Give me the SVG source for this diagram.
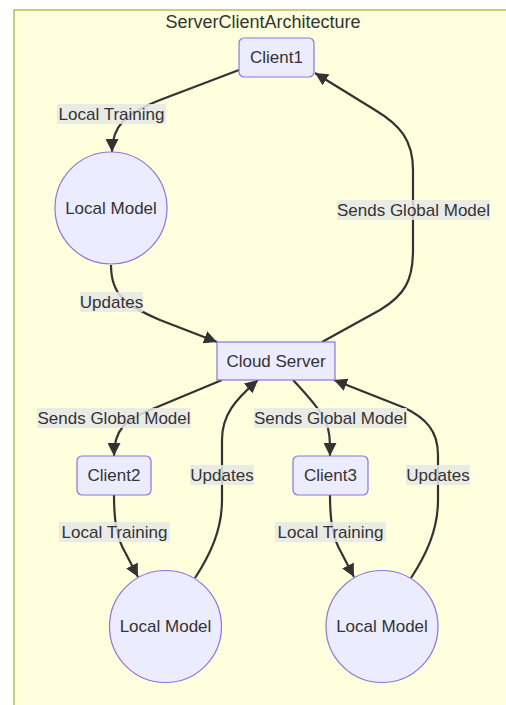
<svg xmlns="http://www.w3.org/2000/svg" width="506" height="705" viewBox="0 0 506 705">
  <style>
    text { font-family: "Liberation Sans", Arial, sans-serif; fill: #333; text-anchor: middle; dominant-baseline: central; }
    .title { font-size: 18px; }
    .node rect, .node circle { fill: #ECECFF; stroke: #9370DB; stroke-width: 1.2; }
    .node text { font-size: 17px; }
    .edge { fill: none; stroke: #333; stroke-width: 2.2; }
    .lbl rect { fill: #e8e8e8; opacity: 0.85; }
    .lbl text { font-size: 17px; }
  </style>
  <defs>
    <marker id="arrow" viewBox="0 0 10 10" refX="10" refY="5" markerWidth="13" markerHeight="13" markerUnits="userSpaceOnUse" orient="auto">
      <path d="M0,0 L10,5 L0,10 z" fill="#333"/>
    </marker>
  </defs>

  <!-- page + cluster background -->
  <rect x="0" y="0" width="506" height="705" fill="#ffffff"/>
  <rect id="cluster" x="14" y="10" width="500" height="700" fill="#ffffde" stroke="#aaaa33" stroke-width="1.2"/>
  <text class="title" x="263" y="22">ServerClientArchitecture</text>

  <!-- connectors -->
  <g id="edges">
    <path class="edge" d="M239,70 L160,100 C125,114 112,126 112,152" marker-end="url(#arrow)"/>
    <path class="edge" d="M111,265 C111,295 125,305 160,320 L217,342" marker-end="url(#arrow)"/>
    <path class="edge" d="M322,342 L380,310 C405,295 413,280 413,250 L413,170 C413,140 400,125 375,110 L315,73" marker-end="url(#arrow)"/>
    <path class="edge" d="M222,380 L150,410 C125,420 114,430 114,456" marker-end="url(#arrow)"/>
    <path class="edge" d="M195,578 C210,555 222,530 222,500 L222,440 C222,415 235,400 258,380" marker-end="url(#arrow)"/>
    <path class="edge" d="M293,380 C310,398 320,410 325,420 C330,430 330,440 330,456" marker-end="url(#arrow)"/>
    <path class="edge" d="M411,578 C426,555 438,530 438,500 L438,455 C438,430 425,418 405,408 L334,380" marker-end="url(#arrow)"/>
    <path class="edge" d="M114,495 C114,525 118,540 125,552 L138,577" marker-end="url(#arrow)"/>
    <path class="edge" d="M330,495 C330,525 334,540 341,552 L354,577" marker-end="url(#arrow)"/>
  </g>

  <!-- connector labels -->
  <g id="edge-labels">
    <g class="lbl"><rect x="57" y="104" width="109" height="20"/><text x="111.5" y="114">Local Training</text></g>
    <g class="lbl"><rect x="80" y="292" width="63" height="20"/><text x="111.5" y="302">Updates</text></g>
    <g class="lbl"><rect x="337" y="200" width="153" height="20"/><text x="413.5" y="210">Sends Global Model</text></g>
    <g class="lbl"><rect x="37" y="408" width="154" height="20"/><text x="114" y="418">Sends Global Model</text></g>
    <g class="lbl"><rect x="190" y="465" width="64" height="20"/><text x="222" y="475">Updates</text></g>
    <g class="lbl"><rect x="254" y="408" width="153" height="20"/><text x="330.5" y="418">Sends Global Model</text></g>
    <g class="lbl"><rect x="406" y="465" width="64" height="20"/><text x="438" y="475">Updates</text></g>
    <g class="lbl"><rect x="59" y="522" width="111" height="20"/><text x="114.5" y="532">Local Training</text></g>
    <g class="lbl"><rect x="275" y="522" width="111" height="20"/><text x="330.5" y="532">Local Training</text></g>
  </g>

  <!-- nodes -->
  <g id="client1" class="node"><rect x="239" y="38" width="75" height="39" rx="5"/><text x="276.5" y="57.5">Client1</text></g>
  <g id="localmodel1" class="node"><circle cx="111" cy="208" r="56"/><text x="111" y="208">Local Model</text></g>
  <g id="cloudserver" class="node"><rect x="217" y="342" width="118" height="38"/><text x="276" y="361">Cloud Server</text></g>
  <g id="client2" class="node"><rect x="77" y="456" width="74" height="39" rx="5"/><text x="114" y="475.5">Client2</text></g>
  <g id="client3" class="node"><rect x="293" y="456" width="75" height="39" rx="5"/><text x="330.5" y="475.5">Client3</text></g>
  <g id="localmodel2" class="node"><circle cx="165.5" cy="626.5" r="56"/><text x="165.5" y="626.5">Local Model</text></g>
  <g id="localmodel3" class="node"><circle cx="382" cy="626.5" r="56"/><text x="382" y="626.5">Local Model</text></g>
</svg>
